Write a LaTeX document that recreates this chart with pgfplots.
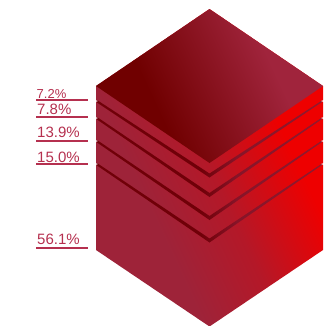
\documentclass[border=0pt]{standalone}
\usepackage{fontspec}
\setmainfont{Liberation Sans}
\usepackage{pgfplots}
\pgfplotsset{compat=1.18}
\definecolor{labelred}{HTML}{B5304F}
\pgfdeclarehorizontalshading{frontface}{100bp}{
  color(0bp)=(rgb,255:red,158;green,35;blue,57);
  color(36bp)=(rgb,255:red,158;green,35;blue,57);
  color(50bp)=(rgb,255:red,180;green,24;blue,40);
  color(66bp)=(rgb,255:red,238;green,0;blue,0);
  color(100bp)=(rgb,255:red,238;green,0;blue,0)}
\pgfdeclarehorizontalshading{topface}{100bp}{
  color(0bp)=(rgb,255:red,112;green,0;blue,0);
  color(36bp)=(rgb,255:red,112;green,0;blue,0);
  color(66bp)=(rgb,255:red,160;green,36;blue,60);
  color(100bp)=(rgb,255:red,160;green,36;blue,60)}
\pgfdeclarehorizontalshading{ledge}{100bp}{
  color(0bp)=(rgb,255:red,112;green,0;blue,8);
  color(48bp)=(rgb,255:red,112;green,0;blue,8);
  color(56bp)=(rgb,255:red,135;green,20;blue,40);
  color(100bp)=(rgb,255:red,155;green,34;blue,58)}
\begin{document}
\begin{tikzpicture}
\path[use as bounding box] (0,0) rectangle (329pt,325pt);
\begin{axis}[
  scale only axis, width=329pt, height=325pt,
  xmin=0, xmax=329, ymin=0, ymax=325, y dir=reverse,
  hide axis, clip=true]
% body of the stack
\addplot[draw=none, shade, shading=frontface, shading angle=25] coordinates
  {(96,86) (209.5,9) (323,86) (323,250) (209.5,326.5) (96,250)} -- cycle;
% top face
\addplot[draw=none, shade, shading=topface, shading angle=25] coordinates
  {(96,86) (209.5,9) (323,86) (209.5,163)} -- cycle;
% ledges between the layers
\addplot[draw=none, shade, shading=ledge] coordinates {(97,100) (97,102.5) (209.5,177.5) (322,102) (322,100.5) (209.5,173.5)} -- cycle;
\addplot[draw=none, shade, shading=ledge] coordinates {(97,117) (97,119.5) (209.5,197) (322,119) (322,117.5) (209.5,193)} -- cycle;
\addplot[draw=none, shade, shading=ledge] coordinates {(97,140) (97,142.5) (209.5,220) (322,142) (322,140.5) (209.5,216)} -- cycle;
\addplot[draw=none, shade, shading=ledge] coordinates {(97,163) (97,165.5) (209.5,242.5) (322,165) (322,163.5) (209.5,238.5)} -- cycle;
% small notches at the edges of the ledges
\addplot[draw=none, fill=white] coordinates {(95,100) (98,101) (95,102)} -- cycle;
\addplot[draw=none, fill=white] coordinates {(95,117) (98,118) (95,119)} -- cycle;
\addplot[draw=none, fill=white] coordinates {(95,140) (98,141) (95,142)} -- cycle;
\addplot[draw=none, fill=white] coordinates {(95,163) (98,164) (95,165)} -- cycle;
\addplot[draw=none, fill=white] coordinates {(324,100) (321,101) (324,102)} -- cycle;
\addplot[draw=none, fill=white] coordinates {(324,117) (321,118) (324,119)} -- cycle;
\addplot[draw=none, fill=white] coordinates {(324,140) (321,141) (324,142)} -- cycle;
\addplot[draw=none, fill=white] coordinates {(324,163) (321,164) (324,165)} -- cycle;
% leader lines
\addplot[labelred, line width=1.2pt] coordinates {(36,100) (88,100)};
\addplot[labelred, line width=1.2pt] coordinates {(36,117) (88,117)};
\addplot[labelred, line width=1.2pt] coordinates {(36,141) (88,141)};
\addplot[labelred, line width=1.2pt] coordinates {(36,164) (88,164)};
\addplot[labelred, line width=1.2pt] coordinates {(36,248) (88,248)};
% percentage labels
\node[anchor=base west, inner sep=0pt, text=labelred, font=\fontsize{13}{13}\selectfont] at (axis cs:36.5,98.2) {7.2\%};
\node[anchor=base west, inner sep=0pt, text=labelred, font=\fontsize{15}{15}\selectfont] at (axis cs:37,114.3) {7.8\%};
\node[anchor=base west, inner sep=0pt, text=labelred, font=\fontsize{15}{15}\selectfont] at (axis cs:37,137.7) {13.9\%};
\node[anchor=base west, inner sep=0pt, text=labelred, font=\fontsize{15}{15}\selectfont] at (axis cs:37,162) {15.0\%};
\node[anchor=base west, inner sep=0pt, text=labelred, font=\fontsize{15}{15}\selectfont] at (axis cs:37,244.3) {56.1\%};
\end{axis}
\end{tikzpicture}
\end{document}
